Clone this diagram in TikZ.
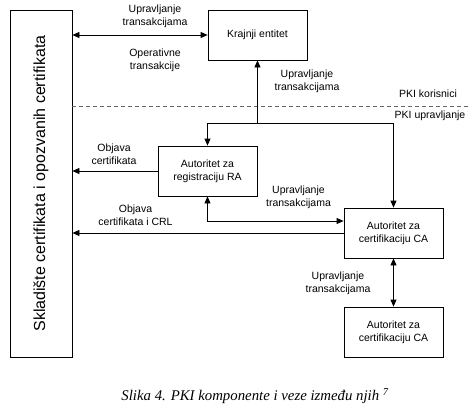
\documentclass[tikz,border=0pt]{standalone}
\usepackage{fontspec}
\setmainfont{Liberation Sans}
\newfontfamily\capfont{Liberation Serif}
\usetikzlibrary{arrows.meta}
\begin{document}
\begin{tikzpicture}[x=1pt,y=-1pt,
  box/.style={draw, line width=0.8pt, minimum width=99pt, minimum height=50pt, inner sep=0pt, align=center, font=\fontsize{10.5}{13}\selectfont},
  lbl/.style={align=center, inner sep=0pt, font=\fontsize{10.5}{13}\selectfont},
  conn/.style={line width=0.8pt},
  tip/.style={-{Triangle[length=7pt,width=6pt]}},
  tip2/.style={{Triangle[length=7pt,width=6pt]}-{Triangle[length=7pt,width=6pt]}}
]
\useasboundingbox (0,0) rectangle (476,412);
\node[box, minimum width=62pt, minimum height=347pt] (store) at (41,183.5)
  {\rotatebox{90}{\fontsize{16}{18}\selectfont Skladište certifikata i opozvanih certifikata}};
\node[box] (ke) at (257.5,35) {Krajnji entitet};
\node[box] (ra) at (207.5,171) {Autoritet za\\registraciju RA};
\node[box] (ca) at (393.5,233) {Autoritet za\\certifikaciju CA};
\node[box] (ca2) at (393.5,332) {Autoritet za\\certifikaciju CA};

\coordinate (jl) at (207.5,123);
\coordinate (jr) at (393.5,123);
\coordinate (dashend) at (470,106);

% top double arrow
\draw[conn,tip2] (store.east |- ke.west) -- (ke.west);
% dashed separator
\draw[line width=0.8pt, black!60, dash pattern=on 4pt off 3pt] (store.east |- dashend) -- (dashend);
% junction bus
\draw[conn] (jl) -- (jr);
\draw[conn,tip] (jl) -- (ra.north);
\draw[conn,tip] (jr) -- (ca.north);
\draw[conn,tip] (ke.south |- jl) -- (ke.south);
% RA to store
\draw[conn,tip] (ra.west) -- (ra.west -| store.east);
% RA <-> CA
\draw[conn,tip2] (ra.south) |- ([yshift=12pt]ca.west);
% CA to store
\draw[conn,tip] (ca.west) -- (ca.west -| store.east);
% CA <-> CA2
\draw[conn,tip2] (ca.south) -- (ca2.north);

% labels
\node[lbl] (l1) at (155,16.5) {Upravljanje\\transakcijama};
\node[lbl] (l2) at (155,60) {Operativne\\transakcije};
\node[lbl] (l3) at (307,81.5) {Upravljanje\\transakcijama};
\node[lbl] (l4) at (428,94) {PKI korisnici};
\node[lbl] (l5) at (430,116) {PKI upravljanje};
\node[lbl] (l6) at (114,154) {Objava\\certifikata};
\node[lbl] (l7) at (135.5,215.5) {Objava\\certifikata i CRL};
\node[lbl] (l8) at (298.5,197.5) {Upravljanje\\transakcijama};
\node[lbl] (l9) at (338,283) {Upravljanje\\transakcijama};

\node[inner sep=0pt] (cap) at (255,396) {\capfont\itshape\fontsize{14.8}{17}\selectfont Slika 4. PKI komponente i veze između njih \textsuperscript{7}};
\end{tikzpicture}
\end{document}
